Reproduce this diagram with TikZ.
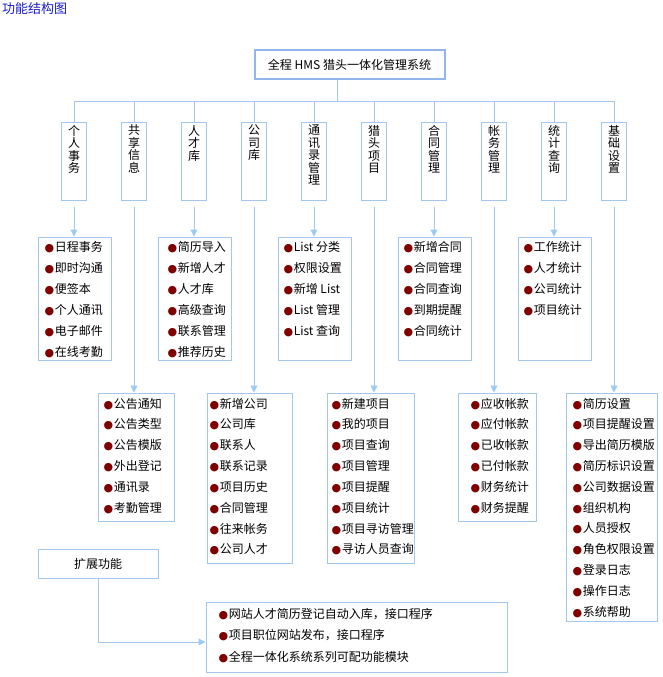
\documentclass[tikz,border=0pt]{standalone}
\usepackage{fontspec}
\setmainfont{Noto Sans CJK SC}
\newfontfamily\dejavu{DejaVu Sans}
\usetikzlibrary{arrows.meta}
\definecolor{lnblue}{HTML}{A4C8EC}
\definecolor{tipblue}{HTML}{9CCBF6}
\definecolor{bulred}{HTML}{800000}
\definecolor{ttlblue}{HTML}{1A1ACC}
\newcommand\bul{{\color{bulred}\dejavu\fontsize{11}{11}\selectfont ●}\hspace{0.5pt}}
\newcommand\vtxt[1]{\parbox[c][78pt][t]{25pt}{\centering\vspace*{3pt}#1}}
\begin{document}
\begin{tikzpicture}[x=1pt,y=-1pt,
  box/.style={draw=lnblue,line width=1pt,inner sep=0pt,fill=white},
  hdr/.style={box,font=\fontsize{12}{12.5}\selectfont},
  itm/.style={anchor=west,inner sep=0pt,text height=10pt,text depth=2pt,font=\fontsize{12}{14}\selectfont},
  conn/.style={draw=lnblue,line width=1pt},
  arr/.style={conn,-{Triangle[width=7pt,length=7pt,color=tipblue]},shorten <=6pt}
]
\useasboundingbox[fill=white] (0,0) rectangle (662,677);
\node[anchor=north west,inner sep=0pt,text=ttlblue,font=\fontsize{13}{13}\selectfont] (title) at (2,2) {功能结构图};
\node[box,draw=lnblue!90!blue,line width=2pt,minimum width=190pt,minimum height=28pt,font=\fontsize{12}{12}\selectfont] (root) at (349.5,64.5) {全程 HMS 猎头一体化管理系统};
% headers
\foreach \nm [count=\k] in {个\\人\\事\\务,共\\享\\信\\息,人\\才\\库,公\\司\\库,通\\讯\\录\\管\\理,猎\\头\\项\\目,合\\同\\管\\理,帐\\务\\管\\理,统\\计\\查\\询,基\\础\\设\\置}
  \node[hdr] (hdr\k) at (14+60*\k,161) {\vtxt{\nm}};
\coordinate (bus) at (337,101);
\draw[conn] (root.south -| bus) -- (bus);
\draw[conn] (hdr1.north |- bus) -- (hdr10.north |- bus);
\foreach \k in {1,...,10} \draw[conn] (hdr\k.north |- bus) -- (hdr\k.north);
% row 1 boxes
\node[box,minimum width=73pt,minimum height=123pt] (L1) at (74.5,298.5) {};
\node[box,minimum width=73pt,minimum height=123pt] (L3) at (194.5,298.5) {};
\node[box,minimum width=73pt,minimum height=123pt] (L5) at (314.5,298.5) {};
\node[box,minimum width=73pt,minimum height=123pt] (L7) at (434.5,298.5) {};
\node[box,minimum width=73pt,minimum height=123pt] (L9) at (554.5,298.5) {};
% row 2 boxes
\node[box,minimum width=76pt,minimum height=128pt] (L2) at (136,457) {};
\node[box,minimum width=85pt,minimum height=170pt] (L4) at (249.5,478) {};
\node[box,minimum width=87pt,minimum height=170pt] (L6) at (370.5,478) {};
\node[box,minimum width=78pt,minimum height=128pt] (L8) at (497,457) {};
\node[box,minimum width=91pt,minimum height=228pt] (L10) at (611.5,507) {};
% extension
\node[box,minimum width=120pt,minimum height=29pt,font=\fontsize{12}{12}\selectfont] (ext) at (98,563.5) {扩展功能};
\node[box,minimum width=301pt,minimum height=70pt] (more) at (356.5,637) {};
% arrows
\foreach \k in {1,...,10} \draw[arr] (hdr\k.south) -- (hdr\k.south |- L\k.north);
\draw[conn,-{Triangle[width=7pt,length=7pt,color=tipblue]}] (ext.south) |- ([yshift=-5pt]more.west);
% items
\foreach \itext [count=\k from 0] in {日程事务,即时沟通,便签本,个人通讯,电子邮件,在线考勤}
  \node[itm] (i1-\k) at (44.5,247+21*\k) {\bul\itext};
\foreach \itext [count=\k from 0] in {简历导入,新增人才,人才库,高级查询,联系管理,推荐历史}
  \node[itm] (i3-\k) at (167.5,247+21*\k) {\bul\itext};
\foreach \itext [count=\k from 0] in {List 分类,权限设置,新增 List,List 管理,List 查询}
  \node[itm] (i5-\k) at (283.5,247+21*\k) {\bul\itext};
\foreach \itext [count=\k from 0] in {新增合同,合同管理,合同查询,到期提醒,合同统计}
  \node[itm] (i7-\k) at (403.5,247+21*\k) {\bul\itext};
\foreach \itext [count=\k from 0] in {工作统计,人才统计,公司统计,项目统计}
  \node[itm] (i9-\k) at (523.5,247+21*\k) {\bul\itext};
\foreach \itext [count=\k from 0] in {公告通知,公告类型,公告模版,外出登记,通讯录,考勤管理}
  \node[itm] (i2-\k) at (103.5,404+20.85*\k) {\bul\itext};
\foreach \itext [count=\k from 0] in {新增公司,公司库,联系人,联系记录,项目历史,合同管理,往来帐务,公司人才}
  \node[itm] (i4-\k) at (209.5,404+20.85*\k) {\bul\itext};
\foreach \itext [count=\k from 0] in {新建项目,我的项目,项目查询,项目管理,项目提醒,项目统计,项目寻访管理,寻访人员查询}
  \node[itm] (i6-\k) at (331.5,404+20.85*\k) {\bul\itext};
\foreach \itext [count=\k from 0] in {应收帐款,应付帐款,已收帐款,已付帐款,财务统计,财务提醒}
  \node[itm] (i8-\k) at (470.5,404+20.85*\k) {\bul\itext};
\foreach \itext [count=\k from 0] in {简历设置,项目提醒设置,导出简历模版,简历标识设置,公司数据设置,组织机构,人员授权,角色权限设置,登录日志,操作日志,系统帮助}
  \node[itm] (i10-\k) at (572.5,404+20.8*\k) {\bul\itext};
\foreach \itext [count=\k from 0] in {网站人才简历登记自动入库，接口程序,项目职位网站发布，接口程序,全程一体化系统系列可配功能模块}
  \node[itm] (im-\k) at (218.5,614+21.5*\k) {\bul\itext};
\end{tikzpicture}
\end{document}
